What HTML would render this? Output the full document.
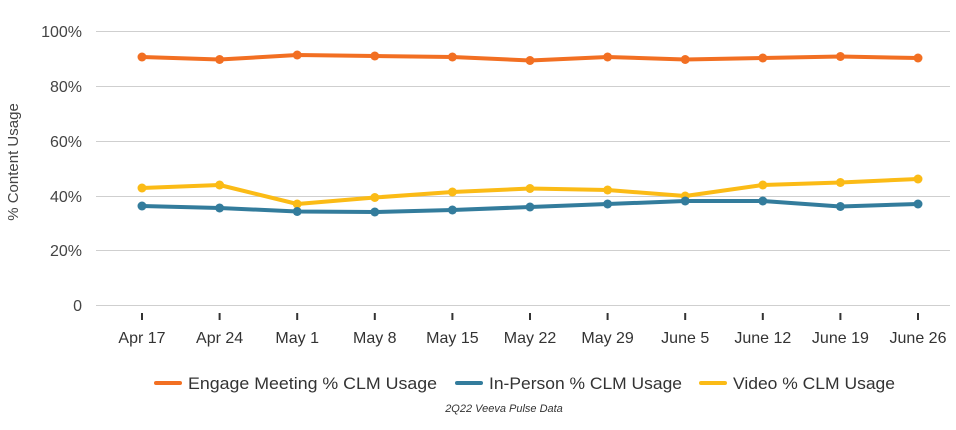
<!DOCTYPE html>
<html><head><meta charset="utf-8"><style>
html,body{margin:0;padding:0;background:#fff;}
svg{display:block;font-family:"Liberation Sans",sans-serif;}
</style></head><body>
<svg width="956" height="430" viewBox="0 0 956 430">
<g stroke="#cfcfcf" stroke-width="1">
<line x1="96" y1="31.5" x2="950" y2="31.5"/>
<line x1="96" y1="86.5" x2="950" y2="86.5"/>
<line x1="96" y1="141.5" x2="950" y2="141.5"/>
<line x1="96" y1="196.5" x2="950" y2="196.5"/>
<line x1="96" y1="250.5" x2="950" y2="250.5"/>
<line x1="96" y1="305.5" x2="950" y2="305.5"/>
</g>
<g fill="#444" font-size="16" text-anchor="end">
<text x="82" y="37">100%</text>
<text x="82" y="92">80%</text>
<text x="82" y="147">60%</text>
<text x="82" y="202">40%</text>
<text x="82" y="256">20%</text>
<text x="82" y="311">0</text>
</g>
<text transform="translate(18,162) rotate(-90)" text-anchor="middle" font-size="15" fill="#444">% Content Usage</text>
<g stroke="#333" stroke-width="2">
<line x1="142" y1="313" x2="142" y2="320"/><line x1="219.6" y1="313" x2="219.6" y2="320"/><line x1="297.2" y1="313" x2="297.2" y2="320"/><line x1="374.8" y1="313" x2="374.8" y2="320"/><line x1="452.4" y1="313" x2="452.4" y2="320"/><line x1="530" y1="313" x2="530" y2="320"/><line x1="607.6" y1="313" x2="607.6" y2="320"/><line x1="685.2" y1="313" x2="685.2" y2="320"/><line x1="762.8" y1="313" x2="762.8" y2="320"/><line x1="840.4" y1="313" x2="840.4" y2="320"/><line x1="918" y1="313" x2="918" y2="320"/>
</g>
<g fill="#333" font-size="16" text-anchor="middle">
<text x="142" y="343">Apr 17</text><text x="219.6" y="343">Apr 24</text><text x="297.2" y="343">May 1</text><text x="374.8" y="343">May 8</text><text x="452.4" y="343">May 15</text><text x="530" y="343">May 22</text><text x="607.6" y="343">May 29</text><text x="685.2" y="343">June 5</text><text x="762.8" y="343">June 12</text><text x="840.4" y="343">June 19</text><text x="918" y="343">June 26</text>
</g>
<g fill="none" stroke-width="4" stroke-linejoin="round">
<polyline stroke="#f26f22" points="142,57 219.6,59.5 297.2,55 374.8,56 452.4,57 530,60.5 607.6,57 685.2,59.5 762.8,58 840.4,56.5 918,58"/>
<polyline stroke="#fbbb16" points="142,188 219.6,185 297.2,204 374.8,197.5 452.4,192 530,188.5 607.6,190 685.2,196 762.8,185 840.4,182.5 918,179"/>
<polyline stroke="#337c9c" points="142,206 219.6,208 297.2,211.5 374.8,212 452.4,210 530,207 607.6,204 685.2,201 762.8,201 840.4,206.5 918,204"/>
</g>
<g fill="#f26f22"><circle cx="142" cy="57" r="4.5"/><circle cx="219.6" cy="59.5" r="4.5"/><circle cx="297.2" cy="55" r="4.5"/><circle cx="374.8" cy="56" r="4.5"/><circle cx="452.4" cy="57" r="4.5"/><circle cx="530" cy="60.5" r="4.5"/><circle cx="607.6" cy="57" r="4.5"/><circle cx="685.2" cy="59.5" r="4.5"/><circle cx="762.8" cy="58" r="4.5"/><circle cx="840.4" cy="56.5" r="4.5"/><circle cx="918" cy="58" r="4.5"/></g>
<g fill="#fbbb16"><circle cx="142" cy="188" r="4.5"/><circle cx="219.6" cy="185" r="4.5"/><circle cx="297.2" cy="204" r="4.5"/><circle cx="374.8" cy="197.5" r="4.5"/><circle cx="452.4" cy="192" r="4.5"/><circle cx="530" cy="188.5" r="4.5"/><circle cx="607.6" cy="190" r="4.5"/><circle cx="685.2" cy="196" r="4.5"/><circle cx="762.8" cy="185" r="4.5"/><circle cx="840.4" cy="182.5" r="4.5"/><circle cx="918" cy="179" r="4.5"/></g>
<g fill="#337c9c"><circle cx="142" cy="206" r="4.5"/><circle cx="219.6" cy="208" r="4.5"/><circle cx="297.2" cy="211.5" r="4.5"/><circle cx="374.8" cy="212" r="4.5"/><circle cx="452.4" cy="210" r="4.5"/><circle cx="530" cy="207" r="4.5"/><circle cx="607.6" cy="204" r="4.5"/><circle cx="685.2" cy="201" r="4.5"/><circle cx="762.8" cy="201" r="4.5"/><circle cx="840.4" cy="206.5" r="4.5"/><circle cx="918" cy="204" r="4.5"/></g>
<g stroke-width="4" stroke-linecap="round">
<line x1="156" y1="383" x2="180" y2="383" stroke="#f26f22"/>
<line x1="457" y1="383" x2="481" y2="383" stroke="#337c9c"/>
<line x1="701" y1="383" x2="725" y2="383" stroke="#fbbb16"/>
</g>
<g fill="#333" font-size="17">
<text x="188" y="389" textLength="249" lengthAdjust="spacingAndGlyphs">Engage Meeting % CLM Usage</text>
<text x="489" y="389" textLength="193" lengthAdjust="spacingAndGlyphs">In-Person % CLM Usage</text>
<text x="733" y="389" textLength="162" lengthAdjust="spacingAndGlyphs">Video % CLM Usage</text>
</g>
<text x="504" y="412" text-anchor="middle" font-size="11" font-style="italic" fill="#333">2Q22 Veeva Pulse Data</text>
</svg>
</body></html>
